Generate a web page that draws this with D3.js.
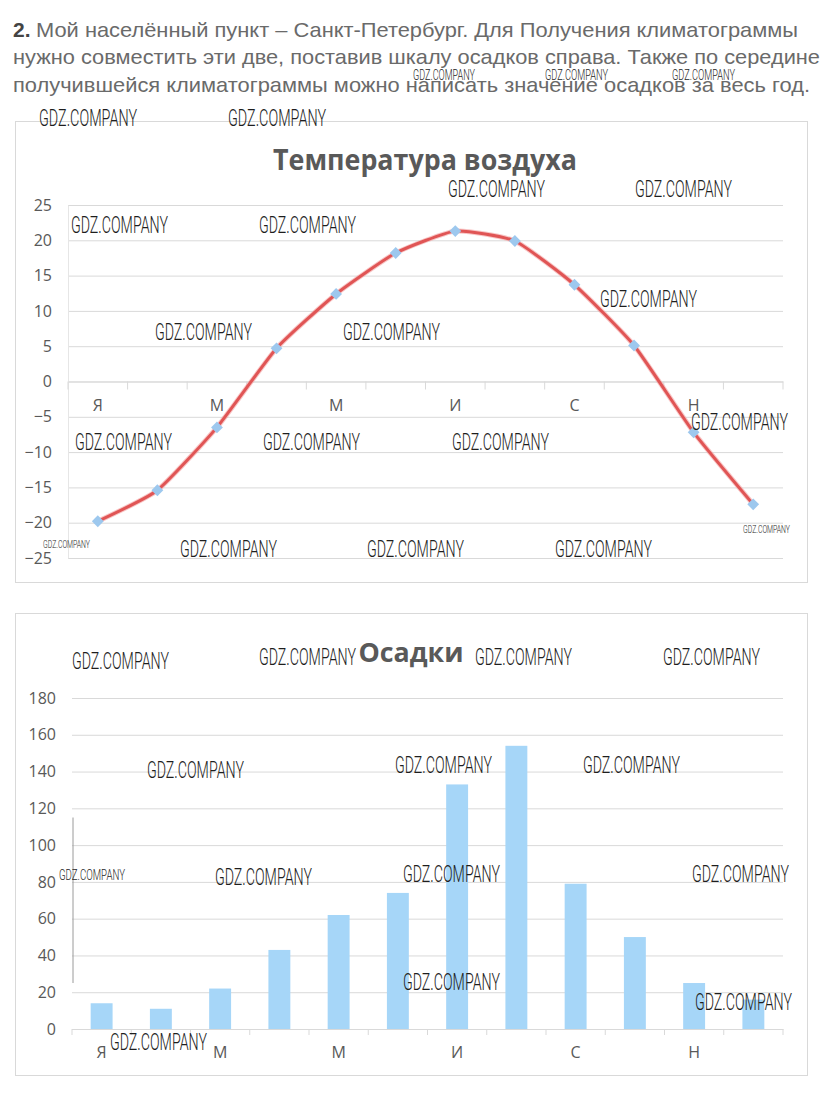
<!DOCTYPE html>
<html>
<head>
<meta charset="utf-8">
<script src="https://cdn.jsdelivr.net/npm/d3@7"></script>
<style>
  body { margin: 0; background: #fff; }
</style>
</head>
<body>
<svg></svg>
<script>
// данные
const months = ["Январь", "Февраль", "Март", "Апрель", "Май", "Июнь",
                "Июль", "Август", "Сентябрь", "Октябрь", "Ноябрь", "Декабрь"];
const monthLabels = ["Я", "", "М", "", "М", "", "И", "", "С", "", "Н", ""];
const temperature = [-19.8, -15.4, -6.5, 4.7, 12.4, 18.2, 21.3, 19.9, 13.7, 5.1, -7.2, -17.4];
const precipitation = [14, 11, 22, 43, 62, 74, 133, 154, 79, 50, 25, 16];
const tempTicks = [-25, -20, -15, -10, -5, 0, 5, 10, 15, 20, 25];
const precipTicks = [0, 20, 40, 60, 80, 100, 120, 140, 160, 180];

const headerLines = [
  "Мой населённый пункт – Санкт-Петербург. Для Получения климатограммы",
  "нужно совместить эти две, поставив шкалу осадков справа. Также по середине",
  "получившейся климатограммы можно написать значение осадков за весь год."
];

const width = 838;
const height = 1104;
const labelColor = "#595959";
const gridColor = "#d9d9d9";

const svg = d3.select("svg")
    .attr("width", width)
    .attr("height", height)
    .style("font-family", "'Open Sans', sans-serif");

// текст задания
const header = svg.append("g").style("font-family", "'Liberation Sans', Arial, sans-serif")
    .style("font-size", "21px");

header.append("text")
    .attr("x", 13).attr("y", 37)
    .attr("fill", "#444").style("font-weight", "bold")
    .text("2.");

header.append("text")
    .attr("x", 36).attr("y", 37)
    .attr("textLength", 762).attr("lengthAdjust", "spacingAndGlyphs")
    .attr("fill", "#6a6a6a")
    .text(headerLines[0]);

header.append("text")
    .attr("x", 13).attr("y", 64)
    .attr("textLength", 807).attr("lengthAdjust", "spacingAndGlyphs")
    .attr("fill", "#6a6a6a")
    .text(headerLines[1]);

header.append("text")
    .attr("x", 13).attr("y", 92)
    .attr("textLength", 797).attr("lengthAdjust", "spacingAndGlyphs")
    .attr("fill", "#6a6a6a")
    .text(headerLines[2]);

// ---------- Температура воздуха ----------
svg.append("rect")
    .attr("x", 15.5).attr("y", 121.5)
    .attr("width", 792).attr("height", 461)
    .attr("fill", "none").attr("stroke", gridColor);

svg.append("text")
    .attr("x", 425).attr("y", 170)
    .attr("text-anchor", "middle")
    .attr("textLength", 304).attr("lengthAdjust", "spacingAndGlyphs")
    .attr("fill", labelColor)
    .style("font-size", "28px").style("font-weight", "bold")
    .text("Температура воздуха");

const xT = d3.scaleBand().domain(months).range([68, 783]);
const yT = d3.scaleLinear().domain([-25, 25]).range([558, 205]);

const gridT = svg.append("g")
    .attr("transform", "translate(68,0)")
    .call(d3.axisLeft(yT).tickValues(tempTicks).tickSize(-715).tickFormat(""));
gridT.select(".domain").remove();
gridT.selectAll("line").attr("stroke", gridColor);

const yAxisT = svg.append("g")
    .attr("transform", "translate(68,0)")
    .call(d3.axisLeft(yT).tickValues(tempTicks).tickSize(0).tickPadding(16));
yAxisT.select(".domain").attr("stroke", "#e6e6e6");
yAxisT.selectAll("text")
    .attr("fill", labelColor)
    .style("font-size", "16px")
    .style("font-family", "'Open Sans', sans-serif");

const xAxisT = svg.append("g")
    .attr("transform", `translate(0,${yT(0)})`)
    .call(d3.axisBottom(xT).tickSize(0).tickPadding(18).tickFormat((d, i) => monthLabels[i]));
xAxisT.select(".domain").attr("stroke", gridColor);
xAxisT.selectAll("text")
    .attr("fill", labelColor)
    .style("font-size", "16px")
    .style("font-family", "'Open Sans', sans-serif");

const boundsT = months.map(m => xT(m)).concat(xT(months[11]) + xT.bandwidth());
svg.append("g")
    .selectAll("line")
    .data(boundsT)
    .enter()
    .append("line")
    .attr("x1", d => d).attr("x2", d => d)
    .attr("y1", yT(0)).attr("y2", yT(0) + 8)
    .attr("stroke", gridColor);

const line = d3.line()
    .x((d, i) => xT(months[i]) + xT.bandwidth() / 2)
    .y(d => yT(d))
    .curve(d3.curveCardinal.tension(0.5));

svg.append("path")
    .datum(temperature)
    .attr("d", line)
    .attr("fill", "none")
    .attr("stroke", "#f3a0a0")
    .attr("stroke-width", 5)
    .attr("stroke-opacity", 0.6);

svg.append("path")
    .datum(temperature)
    .attr("d", line)
    .attr("fill", "none")
    .attr("stroke", "#e05555")
    .attr("stroke-width", 3);

svg.append("g")
    .selectAll("path")
    .data(temperature)
    .enter()
    .append("path")
    .attr("d", d3.symbol(d3.symbolSquare, 70))
    .attr("transform", (d, i) => `translate(${xT(months[i]) + xT.bandwidth() / 2},${yT(d)}) rotate(45)`)
    .attr("fill", "#9dc8ee");

// ---------- Осадки ----------
svg.append("rect")
    .attr("x", 15.5).attr("y", 613.5)
    .attr("width", 792).attr("height", 462)
    .attr("fill", "none").attr("stroke", gridColor);

svg.append("text")
    .attr("x", 411).attr("y", 662)
    .attr("text-anchor", "middle")
    .attr("textLength", 105).attr("lengthAdjust", "spacingAndGlyphs")
    .attr("fill", labelColor)
    .style("font-size", "27px").style("font-weight", "bold")
    .text("Осадки");

const xP = d3.scaleBand().domain(months).range([72, 783]);
const yP = d3.scaleLinear().domain([0, 180]).range([1029, 698]);

const gridP = svg.append("g")
    .attr("transform", "translate(72,0)")
    .call(d3.axisLeft(yP).tickValues(precipTicks).tickSize(-711).tickFormat(""));
gridP.select(".domain").remove();
gridP.selectAll("line").attr("stroke", gridColor);

const yAxisP = svg.append("g")
    .attr("transform", "translate(72,0)")
    .call(d3.axisLeft(yP).tickValues(precipTicks).tickSize(0).tickPadding(16));
yAxisP.select(".domain").remove();
yAxisP.selectAll("text")
    .attr("fill", labelColor)
    .style("font-size", "16px")
    .style("font-family", "'Open Sans', sans-serif");

// бледная вертикальная линия слева
svg.append("line")
    .attr("x1", 73).attr("x2", 73)
    .attr("y1", yP(115)).attr("y2", yP(25))
    .attr("stroke", "#9a9a9a");

const barW = xP.bandwidth() * 0.37;
svg.append("g")
    .selectAll("rect")
    .data(precipitation)
    .enter()
    .append("rect")
    .attr("x", (d, i) => xP(months[i]) + (xP.bandwidth() - barW) / 2)
    .attr("width", barW)
    .attr("y", d => yP(d))
    .attr("height", d => yP(0) - yP(d))
    .attr("fill", "#a6d6f8");

const xAxisP = svg.append("g")
    .attr("transform", `translate(0,${yP(0)})`)
    .call(d3.axisBottom(xP).tickSize(0).tickPadding(18).tickFormat((d, i) => monthLabels[i]));
xAxisP.select(".domain").attr("stroke", gridColor);
xAxisP.selectAll("text")
    .attr("fill", labelColor)
    .style("font-size", "16px")
    .style("font-family", "'Open Sans', sans-serif");

const boundsP = months.map(m => xP(m)).concat(xP(months[11]) + xP.bandwidth());
svg.append("g")
    .selectAll("line")
    .data(boundsP)
    .enter()
    .append("line")
    .attr("x1", d => d).attr("x2", d => d)
    .attr("y1", yP(0)).attr("y2", yP(0) + 6)
    .attr("stroke", gridColor);

// ---------- водяные знаки ----------
// [x, базовая линия, ширина, кегль]
const marks = [
  [413, 80, 62, 14], [545, 80, 63, 14], [672, 80, 63, 14],
  [39, 126, 98, 24], [228, 126, 98, 24],
  [71, 233, 97, 24], [259, 233, 97, 24],
  [448, 197, 97, 24], [635, 197, 97, 24],
  [155, 340, 97, 24], [343, 340, 97, 24],
  [600, 307, 97, 24],
  [75, 450, 97, 24], [263, 450, 97, 24], [452, 450, 97, 24],
  [691, 430, 97, 24],
  [180, 557, 97, 24], [367, 557, 97, 24], [555, 557, 97, 24],
  [43, 548, 47, 11], [743, 533, 47, 11],
  [72, 669, 97, 24], [259, 665, 97, 24], [475, 665, 97, 24], [663, 665, 97, 24],
  [147, 778, 97, 24], [395, 773, 97, 24], [583, 773, 97, 24],
  [59, 880, 66, 14],
  [215, 885, 97, 24], [403, 882, 97, 24], [692, 882, 97, 24],
  [403, 990, 97, 24], [695, 1010, 97, 24],
  [110, 1050, 97, 24]
];

svg.append("g")
    .selectAll("text")
    .data(marks)
    .enter()
    .append("text")
    .attr("x", d => d[0])
    .attr("y", d => d[1])
    .attr("textLength", d => d[2])
    .attr("lengthAdjust", "spacingAndGlyphs")
    .attr("fill", "#1e1e1e")
    .style("font-family", "Roboto, sans-serif")
    .style("font-weight", 300)
    .style("font-size", d => d[3] + "px")
    .text("GDZ.COMPANY");
</script>
</body>
</html>
